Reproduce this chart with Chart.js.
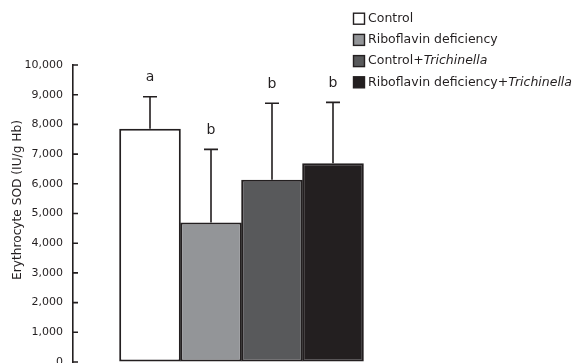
<!DOCTYPE html>
<html>
<head>
<meta charset="utf-8">
<script src="https://cdn.jsdelivr.net/npm/chart.js@4.4.1/dist/chart.umd.min.js"></script>
<style>
    html, body { margin: 0; padding: 0; background: #fff; }
    #wrap { width: 573px; height: 363px; position: relative; }
</style>
</head>
<body>
<div id="wrap"><canvas id="sodChart"></canvas></div>
<script>
// data
const groups = ['Control', 'Riboflavin deficiency', 'Control+Trichinella', 'Riboflavin deficiency+Trichinella'];
const sodMeans = [7850, 4700, 6140, 6690];
const sodSD = [1080, 2460, 2570, 2050];
const sigLetters = ['a', 'b', 'b', 'b'];
const yTicks = [0, 1000, 2000, 3000, 4000, 5000, 6000, 7000, 8000, 9000, 10000];
const yTitle = 'Erythrocyte SOD (IU/g Hb)';
const italicWord = 'Trichinella';

const ink = '#231f20';
const barColors = ['#ffffff', '#939598', '#58595b', '#231f20'];
const fontFamily = '"DejaVu Sans", sans-serif';

// error bars, letters, inward ticks, y title and legend
const extrasPlugin = {
    id: 'extras',
    afterDatasetsDraw(chart) {
        const ctx = chart.ctx;
        const y = chart.scales.y;
        ctx.save();
        ctx.strokeStyle = ink;
        ctx.fillStyle = ink;
        ctx.lineWidth = 1.6;

        chart.data.datasets.forEach((ds, i) => {
            const bar = chart.getDatasetMeta(i).data[0];
            const topPx = y.getPixelForValue(sodMeans[i]);
            const capPx = y.getPixelForValue(sodMeans[i] + sodSD[i]);
            ctx.beginPath();
            ctx.moveTo(bar.x, topPx);
            ctx.lineTo(bar.x, capPx);
            ctx.moveTo(bar.x - 7, capPx);
            ctx.lineTo(bar.x + 7, capPx);
            ctx.stroke();

            ctx.font = '14px ' + fontFamily;
            ctx.textAlign = 'center';
            ctx.textBaseline = 'middle';
            ctx.fillText(sigLetters[i], bar.x, capPx - 19);
        });

        // inward tick marks
        const left = chart.chartArea.left;
        ctx.beginPath();
        yTicks.forEach(v => {
            const py = y.getPixelForValue(v);
            ctx.moveTo(left, py);
            ctx.lineTo(left + 5, py);
        });
        ctx.stroke();

        // y axis title
        ctx.save();
        ctx.translate(18, 200);
        ctx.rotate(-Math.PI / 2);
        ctx.font = '12.2px ' + fontFamily;
        ctx.textAlign = 'center';
        ctx.textBaseline = 'middle';
        ctx.fillText(yTitle, 0, 0);
        ctx.restore();

        // legend
        groups.forEach((name, i) => {
            const cy = 18.7 + i * 21.2;
            ctx.fillStyle = barColors[i];
            ctx.fillRect(353.5, cy - 5.5, 11, 11);
            ctx.lineWidth = 1.4;
            ctx.strokeRect(353.5, cy - 5.5, 11, 11);

            ctx.fillStyle = ink;
            ctx.textAlign = 'left';
            ctx.textBaseline = 'middle';
            let x = 368;
            name.split(new RegExp('(' + italicWord + ')')).filter(p => p).forEach(part => {
                ctx.font = (part === italicWord ? 'italic ' : '') + '12.5px ' + fontFamily;
                ctx.fillText(part, x, cy);
                x += ctx.measureText(part).width;
            });
        });
        ctx.restore();
    }
};

const sodCtx = document.getElementById('sodChart');
new Chart(sodCtx, {
    type: 'bar',
    data: {
        labels: [''],
        datasets: groups.map((g, i) => ({
            label: g,
            data: [sodMeans[i]],
            backgroundColor: barColors[i],
            borderColor: ink,
            borderWidth: 2,
            borderSkipped: false
        }))
    },
    options: {
        responsive: true,
        maintainAspectRatio: false,
        animation: false,
        layout: { padding: { top: 65, bottom: 1, left: 0, right: 163 } },
        datasets: {
            bar: { categoryPercentage: 0.724, barPercentage: 1.01 }
        },
        plugins: {
            legend: { display: false },
            tooltip: { enabled: false }
        },
        scales: {
            x: { display: false },
            y: {
                min: 0,
                max: 10000,
                afterBuildTicks: scale => {
                    scale.ticks = yTicks.map(v => ({ value: v }));
                },
                afterFit: scale => {
                    scale.width = 73;
                    scale.paddingTop = 0;
                    scale.paddingBottom = 0;
                },
                grid: { drawOnChartArea: false, drawTicks: false },
                border: { display: true, color: ink, width: 1.6 },
                ticks: {
                    padding: 10,
                    color: ink,
                    font: { family: fontFamily, size: 11 },
                    callback: v => v.toLocaleString('en-US')
                }
            }
        }
    },
    plugins: [extrasPlugin]
});
</script>
</body>
</html>
